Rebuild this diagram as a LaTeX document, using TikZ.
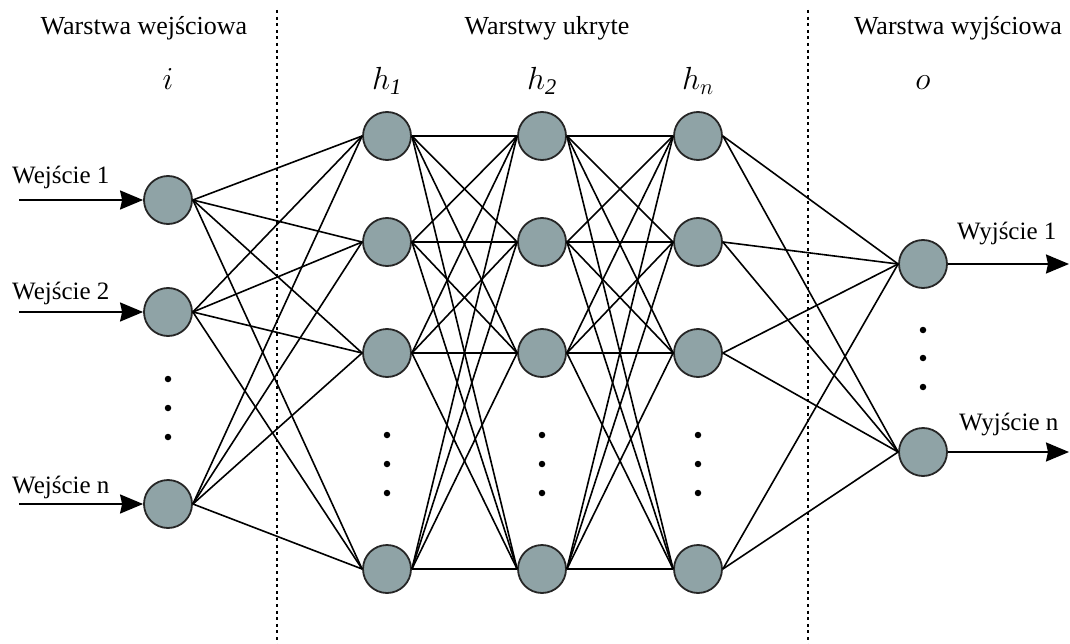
\RequirePackage{fix-cm}
\documentclass[tikz,border=0pt]{standalone}
\usepackage{fontspec}
\setmainfont{Liberation Serif}
\usetikzlibrary{arrows.meta}
\definecolor{nodefill}{RGB}{143,163,166}
\tikzset{
  neuron/.style={circle, draw=black!85, line width=1.8pt, fill=nodefill, minimum size=48pt, inner sep=0pt},
  conn/.style={line width=1.6pt},
  flow/.style={line width=2pt, -{Stealth[length=23pt,width=19pt,inset=2pt]}},
  vdot/.style={circle, fill=black, inner sep=0pt, minimum size=6.5pt},
  sepline/.style={line width=2pt, dash pattern=on 3pt off 3.6pt},
  lbl/.style={font=\fontsize{25}{30}\selectfont, anchor=base west, inner sep=0pt},
  head/.style={font=\fontsize{26}{30}\selectfont, anchor=base, inner sep=0pt},
  mlbl/.style={font=\fontsize{32}{36}\selectfont, anchor=base, inner sep=0pt}
}
\begin{document}
\begin{tikzpicture}[x=1pt,y=-1pt]
\useasboundingbox (0,0) rectangle (1070,644);
% separators
\coordinate (t1) at (277,10); \coordinate (b1) at (277,644);
\coordinate (t2) at (808,10); \coordinate (b2) at (808,644);
\draw[sepline] (t1) -- (b1);
\draw[sepline] (t2) -- (b2);
% headers
\node[head] (hin) at (144,35) {Warstwa wejściowa};
\node[head] (hhid) at (547,35) {Warstwy ukryte};
\node[head] (hout) at (958,35) {Warstwa wyjściowa};
\node[mlbl] (li) at (168,90) {$i$};
\node[mlbl] (lh1) at (387,90) {$h_{\mathit{1}}$};
\node[mlbl] (lh2) at (542,90) {$h_{\mathit{2}}$};
\node[mlbl] (lhn) at (698,90) {$h_{n}$};
\node[mlbl] (lo) at (923,90) {$o$};
% input nodes
\node[neuron] (i1) at (168,200) {};
\node[neuron] (i2) at (168,312) {};
\node[neuron] (i3) at (168,504) {};
% hidden layers
\foreach \L/\x in {a/387,b/542,c/698}{
  \node[neuron] (\L1) at (\x,136) {};
  \node[neuron] (\L2) at (\x,242) {};
  \node[neuron] (\L3) at (\x,353) {};
  \node[neuron] (\L4) at (\x,569) {};
  \node[vdot] (\L d1) at (\x,435) {};
  \node[vdot] (\L d2) at (\x,464) {};
  \node[vdot] (\L d3) at (\x,493) {};
}
% output nodes
\node[neuron] (o1) at (923,264) {};
\node[neuron] (o2) at (923,452) {};
% dots input / output
\node[vdot] (id1) at (168,379) {};
\node[vdot] (id2) at (168,408) {};
\node[vdot] (id3) at (168,437) {};
\node[vdot] (od1) at (923,330) {};
\node[vdot] (od2) at (923,358) {};
\node[vdot] (od3) at (923,387) {};
% connections
\foreach \s in {i1,i2,i3}
  \foreach \t in {a1,a2,a3,a4}
    \draw[conn] (\s.east) -- (\t.west);
\foreach \s in {1,2,3,4}
  \foreach \t in {1,2,3,4}{
    \draw[conn] (a\s.east) -- (b\t.west);
    \draw[conn] (b\s.east) -- (c\t.west);
  }
\foreach \s in {c1,c2,c3,c4}
  \foreach \t in {o1,o2}
    \draw[conn] (\s.east) -- (\t.west);
% input arrows
\coordinate (s1) at (19,200);
\coordinate (s2) at (19,312);
\coordinate (s3) at (19,504);
\draw[flow] (s1) -- (i1.west);
\draw[flow] (s2) -- (i2.west);
\draw[flow] (s3) -- (i3.west);
\coordinate (e1) at (1069,264);
\coordinate (e2) at (1069,452);
\draw[flow] (o1.east) -- (e1);
\draw[flow] (o2.east) -- (e2);
% labels
\node[lbl] (w1) at (12,184) {Wejście 1};
\node[lbl] (w2) at (12,299) {Wejście 2};
\node[lbl] (w3) at (12,493) {Wejście n};
\node[lbl] (y1) at (957,240) {Wyjście 1};
\node[lbl] (y2) at (959,430) {Wyjście n};
\end{tikzpicture}
\end{document}
